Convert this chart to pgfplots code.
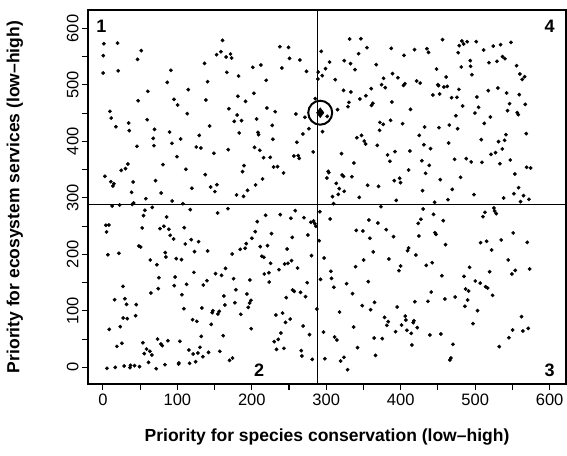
\documentclass[border=0pt]{standalone}
\usepackage{fontspec}
\setmainfont{Liberation Sans}
\usepackage{pgfplots}
\pgfplotsset{compat=1.18}
\usepackage{pgfplotstable}

% rank pairs (species, ecosystem services)
\pgfplotstableread{
x y
1.3 573
19.7 574
0.5 551.7
51.5 560.6
46.6 545.2
0.4 521
20.6 525
91.3 525.8
136.5 538
152.7 553.5
86.4 504.5
140.6 505.7
60.4 488.6
114.6 491.6
47.4 472
95.4 474.4
100.3 464.4
138.3 473.3
9.4 453.2
11.2 441.4
113.3 449
17.5 426
34.5 432.6
59.5 438.4
35.4 419
69.4 421.3
89.5 416.6
143.3 427.2
129.4 410.7
160.7 578.9
158.5 558.8
165.6 549.4
171.4 554.7
172.8 547.6
166.5 522.2
182.2 515.7
237.7 567.7
249.3 566.5
250.7 547
264.6 544.1
240.4 529.9
201.4 531.1
212.2 535.2
219.3 508.1
273.5 524
293.2 559.4
304.4 540.5
299 528.7
289.2 522.8
294.6 516.3
288.7 510.4
312 509.3
324.1 542.9
323.2 490.4
181.3 479.8
191.6 470.9
202.8 485.1
169.2 457.9
180.4 446.7
176.4 435.5
186.2 436.7
220.2 459.1
231.4 452.6
206.4 439.6
227.4 428.4
259.2 448.5
271.3 442.6
285.2 475.6
301.3 444.4
315.2 456.2
183.1 414.9
208.2 416
209.1 411.9
268.6 413.1
276.7 422.5
295 417.2
331.3 581.2
346.5 581.8
343.4 555.3
354.6 565.9
332.6 537.6
338.5 527
367.1 535.8
387.3 564.7
404.3 552.3
418.6 562.4
435.2 564.1
437.4 557.6
456.2 580.1
482.2 577.7
484.4 572.4
489.3 576.5
478.6 569.4
477.2 557.0
493.4 542.9
481.3 531.7
493.8 532.9
495.6 518.1
448.1 528.1
461.1 514
389 519.9
396.2 512.8
377 511.6
374.3 500.4
379.2 495.1
403.8 499.2
405.6 502.2
421.3 506.9
426.2 503.3
360.4 493.3
333.1 487.4
353.2 480.9
345.2 475
330.4 469.1
329.1 461.5
362.6 467.4
360.8 463.8
388.2 469.7
449.9 500.4
450.8 498.6
458 496.3
462.5 497.4
443.2 482.1
452.2 483.9
468.3 477.4
475.5 478
478.1 492.1
483.1 462.6
413.2 456.7
474.1 445.5
372 433.7
376.5 430.2
386.4 437.3
402.5 431.4
432 425.5
451.3 424.3
465.2 429
476.4 422.5
371.6 419.6
347.4 410.7
424.9 410.7
501.4 576.5
511.3 561.8
524.3 568.8
534.1 571.2
548 575.3
518.5 539.3
529.2 541.7
536.8 550
540 546.4
555.6 534
560.1 519.3
563.2 509.8
566.4 514.6
502.3 478.6
517.6 489.8
530.6 494.5
542.2 485.6
559.2 482.7
504.6 460.3
499.7 450.2
546.2 466.8
543.5 454.4
556.5 450.8
557.9 447.3
567.3 465.6
520.3 443.2
512.2 432
541.3 411.9
568.6 413.7
67.6 405.5
104.3 404.3
45.7 391.3
68.5 392.5
92.7 396.6
125.4 390.1
131.6 388.4
149.1 378.9
99.4 373
80.6 358.9
33.6 360
30.4 351.8
24.6 348.8
2.7 338.2
10.7 328.8
14.8 325.2
13.4 321.1
40.7 328.2
70.7 330.5
111.5 350.6
137.4 341.2
153.1 323.4
144.6 319.3
150.4 311.1
119.5 317
38.5 309.9
78.3 308.7
57.7 298.7
41.2 291
39.4 288.6
22.4 287.5
12.5 285.7
93.1 294.5
107.4 289.8
117.3 279.2
66.3 283.3
56.4 278
54.6 268.6
85.5 266.2
154 273.3
4.0 251.5
8.1 252.1
4.9 239.7
52.8 246.8
76.6 245.6
81.9 249.7
88.6 244.4
109.2 247.3
90.4 233.8
94.9 227.3
118.6 226.1
128.5 222.5
110.6 218.4
48.3 214.9
50.6 213.1
123.1 204.9
140.6 206
6.7 199.5
21.5 201.9
83.7 203.1
84.6 195.4
63.6 190.1
98.5 192.5
105.6 190.7
228.3 403.7
260.5 398.4
168.3 385.4
203.7 389.5
210.8 384.2
215.8 371.2
224.7 371.8
256.5 374.2
262.3 374.8
263.7 370.1
282.5 381.3
320.5 378.3
189.4 357.1
187.6 346.5
229.2 354.7
234.6 355.3
242.6 344.1
214.4 333.5
205 322.9
194.3 313.4
179.5 305.2
188.9 302.8
302.6 347.1
303.5 344.7
300.8 335.3
321.4 340.6
323.2 338.2
313.4 325.8
317.4 316.4
316.1 306.3
324.1 311.7
308.4 302.2
309.8 289.8
167.9 281
207.3 258
218.5 269.2
238.2 270.3
258.3 277.4
252.5 263.9
270 265
279.3 256.8
282.9 259.1
284.7 254.4
286.1 249.7
291.4 275.6
305.3 262.7
204.6 240.3
226.5 236.7
200.1 228.5
275.3 234.4
254.3 230.2
192.5 219
184.4 209
191.1 210.8
211.3 213.7
221.1 215.5
247.5 209.6
290.5 224.3
173.7 200.7
213.5 196.6
216.2 194.8
280.2 197.8
297.2 193.6
253.4 188.9
341.1 406.6
351 400.7
352.8 395.4
368.5 393.1
431.1 394.2
440.1 387.2
464.3 397.2
382.3 376
392.2 381.9
385.5 364.8
412.3 383
428.4 365.9
438.3 357.7
337.1 361.8
410.5 349.4
433.4 343.5
472.3 368.3
488 369.5
494.7 363.6
334.4 337.6
391.3 330.5
398.5 334.7
399.8 327
355.5 322.3
370.2 320.5
344.3 301
394 295.7
429.3 312.8
453.1 332.3
469.2 315.2
480.4 336.4
463.4 296.9
445.5 292.2
373.4 284.5
430.2 280.4
444.1 270.9
457.1 259.7
357.3 260.9
369.4 255.6
427.1 262.1
423.5 255
340.3 242.6
349.2 241.4
380.5 243.8
390.4 231.4
424.4 232.6
445.9 238.5
447.3 235.5
358.6 228.5
460.2 217.2
410.5 211.3
409.2 206.6
363.1 204.3
420.4 199
350.1 190.1
384.1 191.9
508.2 403.1
531.4 399.6
539.5 401.9
536.4 386.6
521.2 377.1
527.4 380.1
509.1 363
533.2 360.6
547.1 367.1
569.1 354.1
574.4 352.9
553.4 342.3
558.3 318.1
552.0 307.5
565 304
572.2 297.5
561 293.4
538.2 299.9
498.3 305.8
525.2 282.2
526.1 276.8
528.3 272.1
513.1 274.5
510.4 266.8
551.1 237.9
535.0 225.5
515.3 223.2
507.3 220.8
569.9 221.4
522.0 207.8
544.4 190.1
72.5 181.8
26.9 143.4
75.2 158.8
97.1 160
122.2 168.2
151.3 165.9
139.7 153.5
134.8 145.8
112.4 147
95.8 144.6
74.3 139.3
64.5 131.6
106.1 128.7
15.7 119.8
29.5 121.6
31.8 111.6
44.8 111
27.3 87.4
32.7 86.2
43.9 91.5
108.8 103.9
133 105.1
147.7 100.4
146.8 96.8
154.4 94.5
120.4 84.4
126.2 81.5
145.5 76.2
23.3 72.0
8.5 67.3
132.1 54.9
73.4 50.2
87.3 47.3
103.4 46.1
53.7 43.7
77.9 41.4
79.7 38.4
25.5 42.6
18.8 37.2
58.6 32.5
63.1 28.4
55.5 24.3
65.8 21.9
115.5 30.8
130.3 35.5
127.6 25.5
121.3 23.7
141.9 26.6
134.3 19
61.3 9
83.3 4.8
101.6 6
102.1 7.7
116.4 7.2
124.5 10.1
5.4 -1.7
16.6 0.1
28.6 2.4
37.2 3.6
36.3 -0.5
42.5 3
49.2 1.3
71.6 -2.3
159.4 162.9
164.7 175.3
175.5 157
197.4 154.7
225.2 184.2
216.7 165.3
222.9 167.6
223.4 151.1
236.4 173
244 183
248.5 184.2
261.4 175.9
274.4 149.9
292.3 155.8
306.2 170
307.1 157.6
310.2 141.7
178.6 137.5
162.5 126.3
193.4 129.9
198.8 118.7
197 114
195.2 106.3
177.3 114.5
163.8 110.4
156.2 99.2
185.3 93.9
246.2 123.4
254.7 137
257 134.6
265.5 132.8
272.2 125.2
287.4 103.3
317.8 98
232.3 92.7
241.3 96.2
245.3 79.7
251.6 85.6
199.2 68.5
269.0 73.2
161.6 56.1
239 60.9
277.5 57.9
296.3 62.6
311.1 53.8
314.3 48.5
235.5 49.6
230.1 45.5
233.2 31.9
243.1 33.7
157.1 28.4
170.1 12.5
174.1 16.6
266.4 29.6
267.3 20.1
281.1 14.2
298.1 15.4
319.2 11.3
323.7 17.8
339.4 178.3
399.8 179.4
397.6 171.2
434.3 180.6
442.3 185.3
455.3 162.3
484.9 161.1
492.5 177.1
327.3 148.2
356.4 151.7
335.3 130.5
364.9 115.1
348.3 109.2
359.5 102.1
395.3 106.9
419.0 116.3
436.5 116.9
441 133.4
459.3 121
473.2 124.6
487.1 138.7
491.1 135.2
489.8 119.3
486.2 108.1
378.3 88.6
383.2 80.9
381.4 74.4
406.1 90.9
407 83.9
417.7 82.7
416.8 79.1
401.1 75
422.2 70.3
393.1 63.2
408.3 65.6
414.1 60.3
439.2 57.3
454 59.1
336.7 71.5
364.4 52
375.2 50.8
415 39.6
470.1 40.8
342 34.9
366.2 21.3
467.4 16.6
466.1 13.1
328.6 -4.1
519.4 169.4
549.4 165.3
553.8 171.8
573.1 174.1
500.1 152.9
506.8 149.3
514 142.9
516.7 140.5
523.4 127.5
503.2 100.4
497 77.4
562.3 89.8
550.2 66.2
564.1 64.4
571.3 69.1
545.3 52.6
532.3 36.7
}\ranks

\begin{document}
\begin{tikzpicture}
\useasboundingbox (-88bp,-72bp) rectangle (479bp,384bp);
\begin{axis}[
  at={(0,0)}, anchor=south west,
  width=478bp, height=374bp, scale only axis,
  xmin=-20, xmax=622, ymin=-29.4, ymax=632.6,
  xtick={0,50,...,600},
  xticklabels={0,,100,,200,,300,,400,,500,,600},
  ytick={0,50,...,600},
  yticklabels={0,,100,,200,,300,,400,,500,,600},
  tick align=outside, xtick pos=bottom, ytick pos=left,
  major tick length=6bp,
  axis line style={line width=1.6bp},
  every tick/.style={black, line width=1.1bp},
  tick label style={font=\fontsize{16.5bp}{19bp}\selectfont},
  yticklabel style={rotate=90, anchor=south},
  /pgf/number format/assume math mode=true,
  label style={font=\fontsize{17.5bp}{20bp}\selectfont\bfseries},
  xlabel={Priority for species conservation (low--high)},
  ylabel={Priority for ecosystem services (low--high)},
  xlabel style={at={([yshift=-53bp]axis description cs:0.5,0)}, anchor=center},
  ylabel style={at={([xshift=-73bp]axis description cs:0,0.5)}, anchor=center},
  clip=false,
]
\draw[line width=1.6bp] (axis cs:288,-29.4) -- (axis cs:288,632.6);
\draw[line width=1.6bp] (axis cs:-20,288) -- (axis cs:622,288);
\addplot[only marks, mark=*, mark size=1.7bp, black] table {\ranks};
\addplot[only marks, mark=diamond*, mark size=5bp, black] coordinates {(291.9,450.8)};
\addplot[only marks, mark=o, mark size=12bp, black, mark options={line width=2bp}] coordinates {(291.9,450.8)};
\node[font=\fontsize{18bp}{21bp}\selectfont\bfseries] at (axis cs:-2,603.7) {1};
\node[font=\fontsize{18bp}{21bp}\selectfont\bfseries] at (axis cs:600,603.7) {4};
\node[font=\fontsize{18bp}{21bp}\selectfont\bfseries] at (axis cs:210,-5.8) {2};
\node[font=\fontsize{18bp}{21bp}\selectfont\bfseries] at (axis cs:600,-5.8) {3};
\end{axis}
\end{tikzpicture}
\end{document}
